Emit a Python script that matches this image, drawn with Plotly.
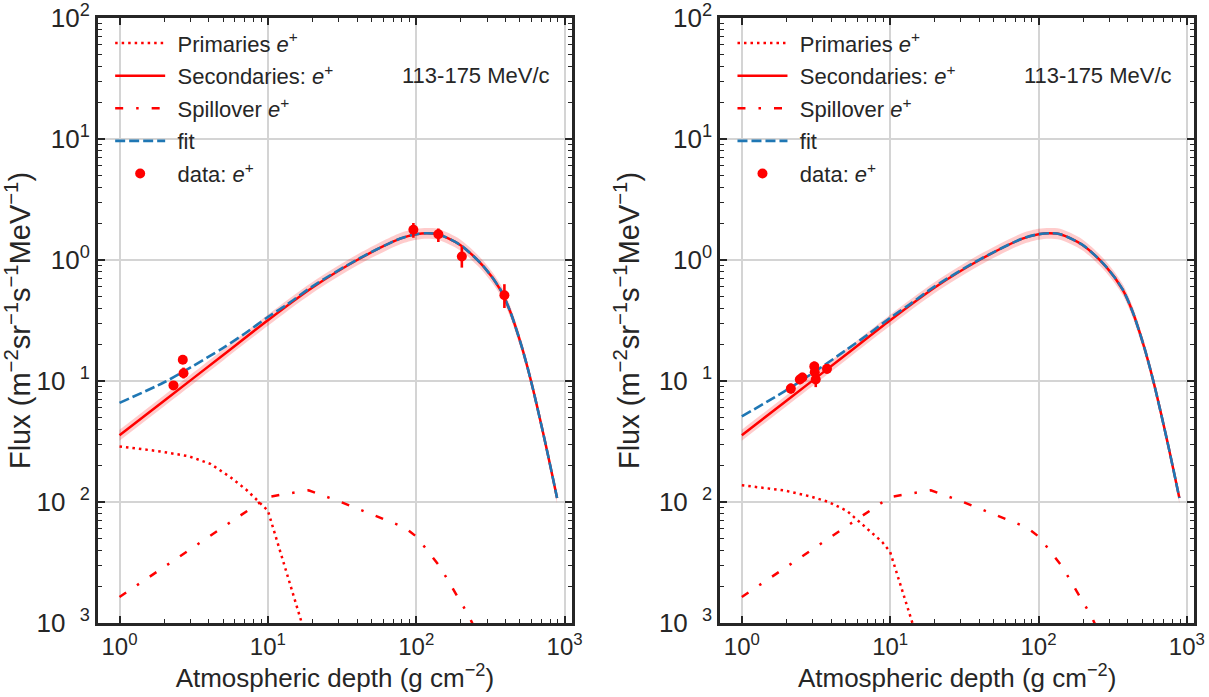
import plotly.graph_objects as go

# ---------------- data ----------------
# Secondaries e+ (solid red) and its uncertainty band (same in both panels)
sec_x = [1, 2, 5, 10, 20, 40, 78, 100, 118, 140, 198, 284, 369, 430, 515, 594, 739, 890]
sec_y = [0.0356, 0.0687, 0.164, 0.318, 0.593, 1.00, 1.50, 1.63, 1.66, 1.63, 1.33,
         0.885, 0.570, 0.375, 0.191, 0.100, 0.0315, 0.0108]
sec_lo = [0.0321, 0.0619, 0.148, 0.286, 0.534, 0.90, 1.35, 1.47, 1.50, 1.47, 1.20,
          0.797, 0.514, 0.338, 0.172, 0.090, 0.0284, 0.0097]
sec_hi = [0.0395, 0.0763, 0.182, 0.353, 0.658, 1.11, 1.67, 1.81, 1.84, 1.81, 1.48,
          0.982, 0.633, 0.416, 0.212, 0.111, 0.0350, 0.0120]

# Spillover e+ (dash-dot red), same in both panels
spill_x = [1, 10, 18.8, 29.2, 65, 84, 101, 145, 225, 260]
spill_y = [0.00164, 0.011, 0.0125, 0.0103, 0.00696, 0.00614, 0.00514, 0.0029, 0.00116, 0.0008]

# Primaries e+ (dotted red)
prim_left_x = [1, 1.88, 2.92, 4.09, 5.57, 7.22, 10, 11.5, 13.4, 16.5, 18]
prim_left_y = [0.0288, 0.0262, 0.0239, 0.0207, 0.0161, 0.0125, 0.0085, 0.00482, 0.00256, 0.0011, 0.00078]
prim_right_x = [1, 1.91, 2.89, 3.85, 5.12, 7.0, 8.84, 10, 11.4, 13.7, 15]
prim_right_y = [0.01374, 0.0125, 0.01114, 0.0100, 0.00843, 0.00603, 0.00467, 0.00386, 0.00233, 0.00112, 0.00079]

# fit (dashed blue)
fit_x = [1, 2, 3, 5, 7, 10, 13.4, 20, 40, 78, 100, 118, 140, 198, 284, 369, 430, 515, 594, 739, 890]
fit_left_y = [0.0660, 0.0976, 0.129, 0.188, 0.247, 0.338, 0.427, 0.606, 1.008, 1.506, 1.635,
              1.665, 1.633, 1.333, 0.887, 0.571, 0.376, 0.191, 0.100, 0.0315, 0.0108]
fit_right_y = [0.0509, 0.0841, 0.116, 0.179, 0.240, 0.333, 0.426, 0.606, 1.008, 1.506, 1.635,
               1.665, 1.633, 1.333, 0.887, 0.571, 0.376, 0.191, 0.100, 0.0315, 0.0108]

# data: e+
data_left_x = [2.31, 2.67, 2.70, 95.7, 141, 203, 393]
data_left_y = [0.092, 0.150, 0.116, 1.78, 1.63, 1.07, 0.511]
data_left_up = [0.007, 0.009, 0.013, 0.24, 0.19, 0.21, 0.12]
data_left_dn = [0.007, 0.009, 0.011, 0.25, 0.22, 0.205, 0.11]

data_right_x = [2.14, 2.46, 2.56, 3.08, 3.10, 3.15, 3.75]
data_right_y = [0.0865, 0.103, 0.107, 0.132, 0.118, 0.103, 0.126]
data_right_up = [0.009, 0.010, 0.010, 0.013, 0.012, 0.016, 0.012]
data_right_dn = [0.008, 0.009, 0.009, 0.012, 0.011, 0.014, 0.011]

x_tick_vals = [1, 10, 100, 1000]
x_tick_text = ["10<sup>0</sup>", "10<sup>1</sup>", "10<sup>2</sup>", "10<sup>3</sup>"]
y_tick_vals = [100, 10, 1, 0.1, 0.01, 0.001]
y_tick_text = ["10<sup>2</sup>", "10<sup>1</sup>", "10<sup>0</sup>",
               "10<sup>\u2002 1</sup>", "10<sup>\u2002 2</sup>", "10<sup>\u2002 3</sup>"]

label_text = "113-175 MeV/c"
x_title = "Atmospheric depth (g cm<sup>\u22122</sup>)"
y_title = "Flux (m<sup>\u22122</sup>sr<sup>\u22121</sup>s<sup>\u22121</sup>MeV<sup>\u22121</sup>)"
legend_names = ["Primaries <i>e</i><sup>+</sup>", "Secondaries: <i>e</i><sup>+</sup>",
                "Spillover <i>e</i><sup>+</sup>", "fit", "data: <i>e</i><sup>+</sup>"]

# ---------------- styling ----------------
RED = "#ff0000"
BLUE = "#1f77b4"
BAND = "rgba(255,0,0,0.2)"
DARK = "#262626"
FONT = "Liberation Sans, Arial, sans-serif"
PAD = "\u2004"

fig = go.Figure()


def add_panel(xa, ya, leg, prim_x, prim_y, fit_y, dx, dy, dup, ddn):
    common = dict(xaxis=xa, yaxis=ya, legend=leg)
    spl = dict(shape="spline", smoothing=0.8)
    fig.add_trace(go.Scatter(x=sec_x, y=sec_lo, mode="lines", line=dict(width=0, **spl),
                             showlegend=False, hoverinfo="skip", **common))
    fig.add_trace(go.Scatter(x=sec_x, y=sec_hi, mode="lines", line=dict(width=0, **spl),
                             fill="tonexty", fillcolor=BAND, showlegend=False, hoverinfo="skip", **common))
    fig.add_trace(go.Scatter(x=prim_x, y=prim_y, mode="lines", name=PAD + legend_names[0],
                             legendgroup="a" + leg, legendrank=1,
                             line=dict(color=RED, width=2.5, dash="2.5px,4px"), **common))
    fig.add_trace(go.Scatter(x=sec_x, y=sec_y, mode="lines", name=PAD + legend_names[1],
                             legendgroup="b" + leg, legendrank=2,
                             line=dict(color=RED, width=2.5, **spl), **common))
    fig.add_trace(go.Scatter(x=spill_x, y=spill_y, mode="lines", name=PAD + legend_names[2],
                             legendgroup="c" + leg, legendrank=3,
                             line=dict(color=RED, width=2.5, dash="8px,13px,2.5px,13px"), **common))
    fig.add_trace(go.Scatter(x=fit_x, y=fit_y, mode="lines", name=PAD + legend_names[3],
                             legendgroup="d" + leg, legendrank=4,
                             line=dict(color=BLUE, width=2.6, dash="10px,4px", **spl), **common))
    fig.add_trace(go.Scatter(x=dx, y=dy, mode="markers", name=PAD + legend_names[4],
                             legendgroup="e" + leg, legendrank=5,
                             marker=dict(color=RED, size=10),
                             error_y=dict(type="data", array=dup, arrayminus=ddn, color=RED,
                                          thickness=2.6, width=0),
                             **common))


add_panel("x", "y", "legend", prim_left_x, prim_left_y, fit_left_y,
          data_left_x, data_left_y, data_left_up, data_left_dn)
add_panel("x2", "y2", "legend2", prim_right_x, prim_right_y, fit_right_y,
          data_right_x, data_right_y, data_right_up, data_right_dn)

x_minor = [k * 10 ** d for d in range(0, 3) for k in range(2, 10)]
y_minor = [k * 10.0 ** d for d in range(-3, 2) for k in range(2, 10)]

xaxis_style = dict(
    type="log", range=[-0.145, 3.048], automargin=False,
    tickmode="array", tickvals=x_tick_vals, ticktext=x_tick_text,
    ticks="inside", ticklen=7, tickwidth=1.5, tickcolor=DARK, ticklabelstandoff=0,
    showline=True, linewidth=3, linecolor=DARK, mirror="allticks",
    showgrid=True, gridcolor="#d4d4d4", gridwidth=1.5, zeroline=False,
    minor=dict(tickmode="array", tickvals=x_minor, ticks="inside", ticklen=4,
               tickwidth=1.2, tickcolor=DARK, showgrid=False),
    tickfont=dict(size=24, color=DARK, family=FONT),
    title=dict(text=x_title, font=dict(size=26, color=DARK, family=FONT), standoff=9),
)
yaxis_style = dict(
    type="log", range=[-3, 2], automargin=False,
    tickmode="array", tickvals=y_tick_vals, ticktext=y_tick_text,
    ticks="inside", ticklen=7, tickwidth=1.5, tickcolor=DARK,
    showline=True, linewidth=3, linecolor=DARK, mirror="allticks",
    showgrid=True, gridcolor="#d4d4d4", gridwidth=1.5, zeroline=False,
    minor=dict(tickmode="array", tickvals=y_minor, ticks="inside", ticklen=4,
               tickwidth=1.2, tickcolor=DARK, showgrid=False),
    tickfont=dict(size=26, color=DARK, family=FONT),
    title=dict(text=y_title, font=dict(size=29, color=DARK, family=FONT), standoff=11),
)

# plot area: left 97.8 px, right edge 1194 px, top 17.7 px, bottom 623 px
fig.update_layout(
    width=1209, height=697, autosize=False,
    margin=dict(l=98, r=15, t=18, b=74, autoexpand=False),
    paper_bgcolor="white", plot_bgcolor="white",
    font=dict(family=FONT, color=DARK),
    xaxis=dict(domain=[0, 0.4322], anchor="y", **xaxis_style),
    yaxis=dict(domain=[0, 1], anchor="x", **yaxis_style),
    xaxis2=dict(domain=[0.5678, 1.0], anchor="y2", **xaxis_style),
    yaxis2=dict(domain=[0, 1], anchor="x2", **yaxis_style),
    legend=dict(x=0.0111, y=0.993, xanchor="left", yanchor="top", bgcolor="rgba(0,0,0,0)",
                font=dict(size=22, color=DARK, family=FONT), itemwidth=50, tracegroupgap=1),
    legend2=dict(x=0.5789, y=0.993, xanchor="left", yanchor="top", bgcolor="rgba(0,0,0,0)",
                 font=dict(size=22, color=DARK, family=FONT), itemwidth=50, tracegroupgap=1),
    showlegend=True,
)

for xr, yr in [("x domain", "y domain"), ("x2 domain", "y2 domain")]:
    fig.add_annotation(text=label_text, xref=xr, yref=yr,
                       x=0.9587, y=0.905, xanchor="right", yanchor="middle", showarrow=False,
                       font=dict(size=22, color=DARK, family=FONT))

fig.write_html("out.html")
